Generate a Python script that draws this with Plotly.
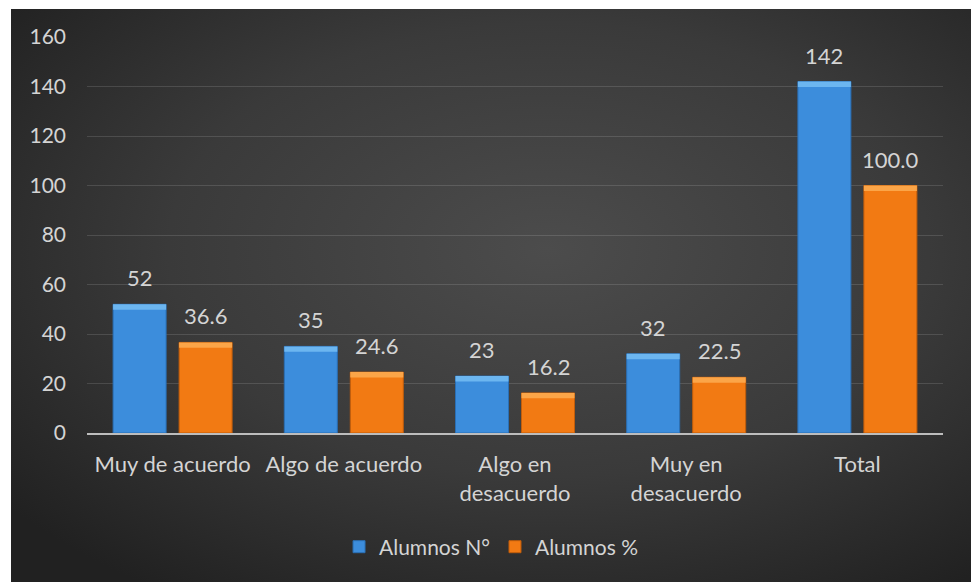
import base64
import plotly.graph_objects as go

# Survey answers and the two series shown per answer
categories = ["Muy de acuerdo", "Algo de acuerdo", "Algo en<br>desacuerdo",
              "Muy en<br>desacuerdo", "Total"]
alumnos_n = [52, 35, 23, 32, 142]
alumnos_pct = [36.6, 24.6, 16.2, 22.5, 100.0]
y_ticks = [0, 20, 40, 60, 80, 100, 120, 140, 160]

FONT = "Lato"
TXT = "#d4d4d4"
BLUE, BLUE_TOP, BLUE_EDGE = "#3c8ddc", "#6cb6f0", "#2a6fb5"
ORANGE, ORANGE_TOP, ORANGE_EDGE = "#f27a13", "#fba548", "#c15d0b"
BEVEL = 2.2  # height of the lighter top face, in axis units

fig = go.Figure()

# main bars
fig.add_bar(x=categories, y=alumnos_n, name="Alumnos N°", offsetgroup="n",
            marker=dict(color=BLUE, line=dict(color=BLUE_EDGE, width=1)))
fig.add_bar(x=categories, y=alumnos_pct, name="Alumnos %", offsetgroup="p",
            marker=dict(color=ORANGE, line=dict(color=ORANGE_EDGE, width=1)))

# lighter top face of each bar
fig.add_bar(x=categories, y=[BEVEL] * len(alumnos_n),
            base=[v - BEVEL for v in alumnos_n], offsetgroup="n",
            marker=dict(color=BLUE_TOP, line=dict(width=0)),
            showlegend=False, hoverinfo="skip")
fig.add_bar(x=categories, y=[BEVEL] * len(alumnos_pct),
            base=[v - BEVEL for v in alumnos_pct], offsetgroup="p",
            marker=dict(color=ORANGE_TOP, line=dict(width=0)),
            showlegend=False, hoverinfo="skip")

# value labels above the bars
for cat, n, p in zip(categories, alumnos_n, alumnos_pct):
    for val, txt, shift in ((n, f"{n:d}", -33), (p, f"{p:.1f}", 33)):
        fig.add_annotation(x=cat, y=val, text=txt, showarrow=False,
                           xshift=shift, yshift=11, yanchor="bottom",
                           font=dict(family=FONT, size=22, color=TXT))

# radial grey background of the chart area
svg = """<svg xmlns='http://www.w3.org/2000/svg' width='960' height='573'>
<defs><radialGradient id='g' cx='56%' cy='42%' r='72%'>
<stop offset='0%' stop-color='#4c4c4c'/>
<stop offset='55%' stop-color='#3a3a3a'/>
<stop offset='100%' stop-color='#212121'/>
</radialGradient></defs>
<rect width='960' height='573' fill='url(#g)'/></svg>"""
bg = "data:image/svg+xml;base64," + base64.b64encode(svg.encode()).decode()

L, R, T, B = 87, 28, 37, 149
W, H = 971, 582
pw, ph = W - L - R, H - T - B
fig.add_layout_image(source=bg, xref="paper", yref="paper",
                     x=(11 - L) / pw, y=(H - B - 9) / ph,
                     sizex=(W - 11) / pw, sizey=(H - 9) / ph,
                     xanchor="left", yanchor="top", sizing="stretch",
                     layer="below")

fig.update_layout(
    width=W, height=H,
    margin=dict(l=L, r=R, t=T, b=B, pad=0),
    paper_bgcolor="white", plot_bgcolor="rgba(0,0,0,0)",
    barmode="group", bargap=0.229, bargroupgap=0.197,
    font=dict(family=FONT, size=22, color=TXT),
    showlegend=True,
    legend=dict(orientation="h", x=0.472, xanchor="center", y=-0.288,
                yanchor="middle", font=dict(family=FONT, size=21, color=TXT),
                bgcolor="rgba(0,0,0,0)", itemwidth=30, traceorder="normal"),
    xaxis=dict(showgrid=False, showline=True, linecolor="#bdbdbd", linewidth=2,
               ticks="", ticklabelstandoff=11,
               tickfont=dict(family=FONT, size=22, color=TXT)),
    yaxis=dict(range=[0, 160], tickvals=y_ticks, showgrid=True,
               gridcolor="rgba(255,255,255,0.13)", gridwidth=1,
               zeroline=False, showline=False, ticks="", ticklabelstandoff=20,
               tickfont=dict(family=FONT, size=21, color=TXT)),
)

fig.write_html("out.html")
